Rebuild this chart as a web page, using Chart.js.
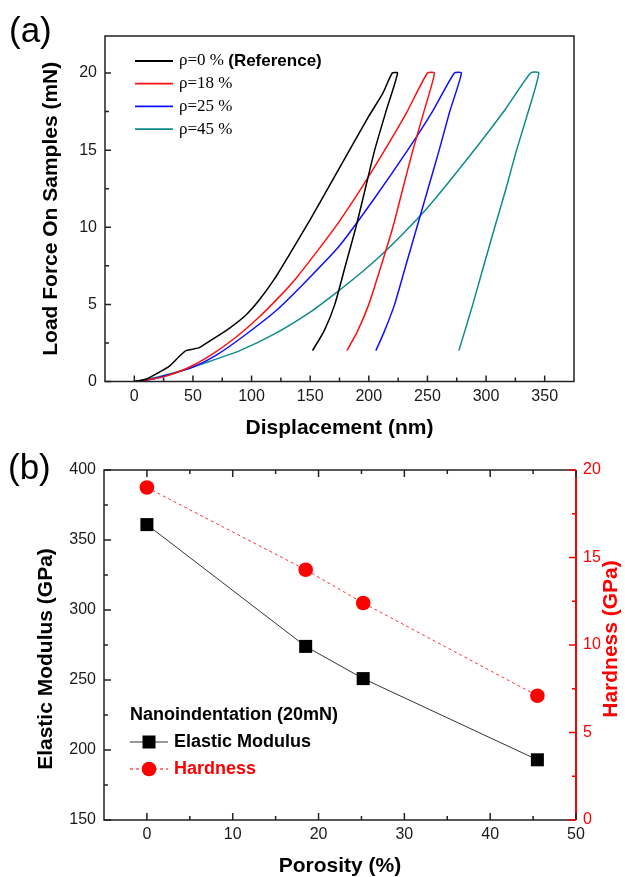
<!DOCTYPE html>
<html>
<head>
<meta charset="utf-8">
<script src="https://cdn.jsdelivr.net/npm/chart.js@4.4.1/dist/chart.umd.min.js"></script>
<style>
html, body { margin: 0; padding: 0; background: #fff; }
.wrap { position: absolute; left: 0; width: 625px; }
#wrapA { top: 0; height: 440px; }
#wrapB { top: 440px; height: 437px; }
.panel { position: absolute; font-family: Arial, "Liberation Sans", sans-serif; font-size: 35px; line-height: 1; color: #000; }
</style>
</head>
<body>
<div class="wrap" id="wrapA"><canvas id="chartA" width="625" height="440"></canvas></div>
<div class="wrap" id="wrapB"><canvas id="chartB" width="625" height="437"></canvas></div>
<div class="panel" style="left:9px;top:12px;">(a)</div>
<div class="panel" style="left:8px;top:449px;">(b)</div>
<script>
"use strict";

/* (a) last-förskjutningskurvor: förskjutning (nm) och kraft (mN) */
const dispRef = [0, 10, 20, 30, 38, 44, 50, 55.5, 68, 81, 95, 106.7, 120, 132, 150, 165, 185, 200, 212, 220, 224.5, 215, 205, 197, 189, 180, 171, 162, 152];
const forceRef = [0, 0.15, 0.55, 1.0, 1.6, 2.0, 2.1, 2.2, 2.8, 3.45, 4.3, 5.3, 6.7, 8.2, 10.5, 12.5, 15.2, 17.2, 18.7, 20, 20, 17.6, 15, 12.5, 10, 7.5, 5, 3.3, 2];
const disp18 = [0, 10, 25, 45, 64, 85, 106.7, 125, 138, 156.5, 175, 195, 212, 232, 250, 256, 247, 237.6, 229, 220.5, 210.5, 200, 190, 181.3];
const force18 = [0, 0.1, 0.3, 0.86, 1.65, 2.77, 4.2, 5.6, 6.7, 8.5, 10.4, 12.7, 14.8, 17.4, 20, 20, 17.5, 15, 12.5, 10, 7.5, 5, 3.2, 2];
const disp25 = [0, 15, 30, 50, 70, 92.5, 121, 149, 175, 205, 234, 255, 273, 279, 269, 260, 250.5, 241, 231.5, 222, 213, 206];
const force25 = [0, 0.15, 0.45, 0.93, 1.71, 2.9, 4.6, 6.7, 8.8, 11.9, 15.1, 17.6, 20, 20, 17.5, 15, 12.5, 10, 7.5, 5, 3.2, 2];
const disp45 = [0, 20, 40, 64, 90, 120, 150, 172, 195, 212, 230, 247, 270, 294, 316, 338, 345, 336, 326, 317, 307.4, 298, 288.7, 282, 276.8];
const force45 = [0, 0.3, 0.7, 1.3, 2.0, 3.1, 4.5, 5.75, 7.15, 8.3, 9.65, 11.0, 13.1, 15.4, 17.6, 20, 20, 17.5, 15, 12.5, 10, 7.5, 5, 3.3, 2];
const sampleLabels = ['ρ=0 % (Reference)', 'ρ=18 %', 'ρ=25 %', 'ρ=45 %'];

/* axlarnas skalstreck (a) */
const dispTicks = [0, 50, 100, 150, 200, 250, 300, 350];
const dispMinor = [25, 75, 125, 175, 225, 275, 325];
const forceTicks = [0, 5, 10, 15, 20];
const forceMinor = [2.5, 7.5, 12.5, 17.5];

/* (b) porositet (%), E-modul (GPa) och hårdhet (GPa) */
const porosity = [0, 18.5, 25.2, 45.5];
const modulus = [361, 274, 251, 193];
const hardness = [19.0, 14.3, 12.4, 7.1];

/* axlarnas skalstreck (b) */
const porTicks = [0, 10, 20, 30, 40, 50];
const porMinor = [5, 15, 25, 35, 45];
const modTicks = [150, 200, 250, 300, 350, 400];
const modMinor = [175, 225, 275, 325, 375];
const hardTicks = [0, 5, 10, 15, 20];
const hardMinor = [2.5, 7.5, 12.5, 17.5];

const sans = 'Arial, "Liberation Sans", sans-serif';
const serif = '"Times New Roman", "Liberation Serif", serif';
const sampleColors = ['#000000', '#ff1010', '#1010ff', '#108a8a'];
const RED = '#ff0000';

/* små inåtriktade skalstreck */
function inTicks(ctx, scale, side, values, len, color) {
    const a = scale.chart.chartArea;
    ctx.save();
    ctx.strokeStyle = color || '#222';
    ctx.lineWidth = 1.5;
    ctx.beginPath();
    for (const v of values) {
        const p = scale.getPixelForValue(v);
        if (side === 'bottom') { ctx.moveTo(p, a.bottom); ctx.lineTo(p, a.bottom - len); }
        if (side === 'top') { ctx.moveTo(p, a.top); ctx.lineTo(p, a.top + len); }
        if (side === 'left') { ctx.moveTo(a.left, p); ctx.lineTo(a.left + len, p); }
        if (side === 'right') { ctx.moveTo(a.right, p); ctx.lineTo(a.right - len, p); }
    }
    ctx.stroke();
    ctx.restore();
}

function setTicks(values) {
    return function (s) { s.ticks = values.map(v => ({ value: v })); };
}

const tickFont = { family: sans, size: 16 };
const titleFont = { family: sans, size: 21, weight: 'bold', lineHeight: 1 };

/* ---------- (a) ---------- */
const dispSets = [dispRef, disp18, disp25, disp45];
const forceSets = [forceRef, force18, force25, force45];

const framePluginA = {
    id: 'frameA',
    afterDraw(chart) {
        const ctx = chart.ctx;
        const a = chart.chartArea;
        ctx.save();
        ctx.strokeStyle = '#222';
        ctx.lineWidth = 1.5;
        ctx.strokeRect(a.left, a.top, a.right - a.left, a.bottom - a.top);
        ctx.restore();
        inTicks(ctx, chart.scales.x, 'bottom', dispTicks, 6);
        inTicks(ctx, chart.scales.x, 'bottom', dispMinor, 4);
        inTicks(ctx, chart.scales.y, 'left', forceTicks, 6);
        inTicks(ctx, chart.scales.y, 'left', forceMinor, 4);

        /* förklaring */
        ctx.save();
        ctx.textBaseline = 'middle';
        sampleLabels.forEach((lab, i) => {
            const y = 61 + i * 22.7;
            ctx.strokeStyle = sampleColors[i];
            ctx.lineWidth = 1.8;
            ctx.beginPath();
            ctx.moveTo(135, y);
            ctx.lineTo(173, y);
            ctx.stroke();
            const parts = lab.split(' (');
            ctx.fillStyle = '#000';
            ctx.font = '17px ' + serif;
            ctx.fillText(parts[0], 179, y);
            if (parts.length > 1) {
                const w = ctx.measureText(parts[0] + ' ').width;
                ctx.font = 'bold 17px ' + sans;
                ctx.fillText('(' + parts[1], 179 + w, y);
            }
        });
        ctx.restore();
    }
};

new Chart(document.getElementById('chartA'), {
    type: 'line',
    data: {
        datasets: sampleLabels.map((lab, i) => ({
            label: lab,
            data: dispSets[i].map((x, j) => ({ x: x, y: forceSets[i][j] })),
            borderColor: sampleColors[i],
            borderWidth: 1.5,
            pointRadius: 0,
            tension: 0.2,
            fill: false
        }))
    },
    options: {
        responsive: false,
        animation: false,
        layout: { padding: { top: 36, right: 51, left: 0, bottom: 0 } },
        plugins: { legend: { display: false }, tooltip: { enabled: false } },
        scales: {
            x: {
                type: 'linear',
                min: -25,
                max: 375,
                afterBuildTicks: setTicks(dispTicks),
                afterFit: function (s) { s.height = 58.5; },
                grid: { display: false, drawTicks: false },
                border: { display: false },
                ticks: { color: '#1a1a1a', font: tickFont, padding: 5, maxRotation: 0, autoSkip: false },
                title: { display: true, text: 'Displacement (nm)', color: '#000', font: titleFont, padding: { top: 0, bottom: 1 } }
            },
            y: {
                type: 'linear',
                min: 0,
                max: 22.4,
                afterBuildTicks: setTicks(forceTicks),
                afterFit: function (s) { s.width = 105; },
                grid: { display: false, drawTicks: false },
                border: { display: false },
                ticks: { color: '#1a1a1a', font: tickFont, padding: 8 },
                title: { display: true, text: 'Load Force On Samples (mN)', color: '#000', font: titleFont, padding: { top: 40.5, bottom: 0 } }
            }
        }
    },
    plugins: [framePluginA]
});

/* ---------- (b) ---------- */
const framePluginB = {
    id: 'frameB',
    afterDraw(chart) {
        const ctx = chart.ctx;
        const a = chart.chartArea;
        ctx.save();
        ctx.lineWidth = 1.5;
        ctx.strokeStyle = '#222';
        ctx.beginPath();
        ctx.moveTo(a.right, a.top);
        ctx.lineTo(a.left, a.top);
        ctx.lineTo(a.left, a.bottom);
        ctx.lineTo(a.right, a.bottom);
        ctx.stroke();
        ctx.strokeStyle = RED;
        ctx.lineWidth = 2;
        ctx.beginPath();
        ctx.moveTo(a.right, a.top);
        ctx.lineTo(a.right, a.bottom);
        ctx.stroke();
        ctx.restore();
        inTicks(ctx, chart.scales.x, 'bottom', porTicks, 7);
        inTicks(ctx, chart.scales.x, 'bottom', porMinor, 4);
        inTicks(ctx, chart.scales.x, 'top', porTicks, 7);
        inTicks(ctx, chart.scales.x, 'top', porMinor, 4);
        inTicks(ctx, chart.scales.yE, 'left', modTicks, 7);
        inTicks(ctx, chart.scales.yE, 'left', modMinor, 4);
        inTicks(ctx, chart.scales.yH, 'right', hardTicks, 7, RED);
        inTicks(ctx, chart.scales.yH, 'right', hardMinor, 4, RED);

        /* y-axeltitlar, båda läses nedifrån och upp */
        ctx.save();
        ctx.font = 'bold 21px ' + sans;
        ctx.textAlign = 'center';
        ctx.textBaseline = 'middle';
        ctx.translate(46, 219);
        ctx.rotate(-Math.PI / 2);
        ctx.fillStyle = '#000';
        ctx.fillText('Elastic Modulus (GPa)', 0, 0);
        ctx.restore();
        ctx.save();
        ctx.font = 'bold 21px ' + sans;
        ctx.textAlign = 'center';
        ctx.textBaseline = 'middle';
        ctx.translate(611, 199);
        ctx.rotate(-Math.PI / 2);
        ctx.fillStyle = RED;
        ctx.fillText('Hardness (GPa)', 0, 0);
        ctx.restore();

        /* förklaring */
        ctx.save();
        ctx.textBaseline = 'middle';
        ctx.font = 'bold 18px ' + sans;
        ctx.fillStyle = '#000';
        ctx.fillText('Nanoindentation (20mN)', 130, 275);
        ctx.strokeStyle = '#333';
        ctx.lineWidth = 1;
        ctx.beginPath();
        ctx.moveTo(130, 302);
        ctx.lineTo(168, 302);
        ctx.stroke();
        ctx.fillStyle = '#000';
        ctx.fillRect(149 - 6.5, 302 - 6.5, 13, 13);
        ctx.fillText(chart.data.datasets[0].label, 174, 302);
        ctx.strokeStyle = RED;
        ctx.setLineDash([3, 3]);
        ctx.beginPath();
        ctx.moveTo(130, 329);
        ctx.lineTo(168, 329);
        ctx.stroke();
        ctx.setLineDash([]);
        ctx.fillStyle = RED;
        ctx.beginPath();
        ctx.arc(149, 329, 7.3, 0, Math.PI * 2);
        ctx.fill();
        ctx.fillText(chart.data.datasets[1].label, 174, 329);
        ctx.restore();
    }
};

new Chart(document.getElementById('chartB'), {
    type: 'line',
    data: {
        datasets: [{
            label: 'Elastic Modulus',
            data: porosity.map((x, i) => ({ x: x, y: modulus[i] })),
            yAxisID: 'yE',
            borderColor: '#333',
            borderWidth: 1,
            pointStyle: 'rect',
            pointRadius: 9.2,
            pointBackgroundColor: '#000',
            pointBorderColor: '#000',
            pointBorderWidth: 0,
            fill: false
        }, {
            label: 'Hardness',
            data: porosity.map((x, i) => ({ x: x, y: hardness[i] })),
            yAxisID: 'yH',
            borderColor: '#ff3030',
            borderDash: [3, 3],
            borderWidth: 1,
            pointStyle: 'circle',
            pointRadius: 7.3,
            pointBackgroundColor: RED,
            pointBorderColor: RED,
            pointBorderWidth: 0,
            fill: false
        }]
    },
    options: {
        responsive: false,
        animation: false,
        layout: { padding: { top: 30, right: 0, left: 0, bottom: 0 } },
        plugins: { legend: { display: false }, tooltip: { enabled: false } },
        scales: {
            x: {
                type: 'linear',
                min: -5,
                max: 50,
                afterBuildTicks: setTicks(porTicks),
                afterFit: function (s) { s.height = 57; },
                grid: { display: false, drawTicks: false },
                border: { display: false },
                ticks: { color: '#1a1a1a', font: tickFont, padding: 5, maxRotation: 0, autoSkip: false },
                title: { display: true, text: 'Porosity (%)', color: '#000', font: titleFont, padding: { top: 0, bottom: 0.5 } }
            },
            yE: {
                type: 'linear',
                position: 'left',
                min: 150,
                max: 400,
                afterBuildTicks: setTicks(modTicks),
                afterFit: function (s) { s.width = 104; },
                grid: { display: false, drawTicks: false },
                border: { display: false },
                ticks: { color: '#1a1a1a', font: tickFont, padding: 8 }
            },
            yH: {
                type: 'linear',
                position: 'right',
                min: 0,
                max: 20,
                afterBuildTicks: setTicks(hardTicks),
                afterFit: function (s) { s.width = 49; },
                grid: { display: false, drawTicks: false },
                border: { display: false },
                ticks: { color: RED, font: tickFont, padding: 7 }
            }
        }
    },
    plugins: [framePluginB]
});
</script>
</body>
</html>
